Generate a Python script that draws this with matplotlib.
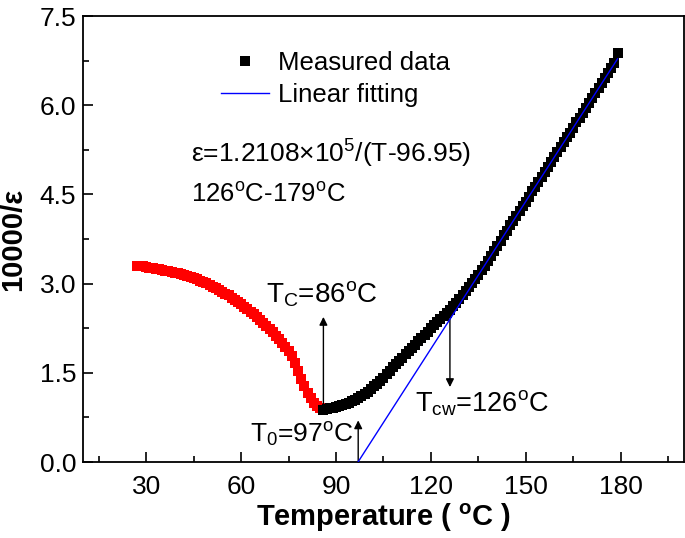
import matplotlib
matplotlib.use("Agg")
import matplotlib.pyplot as plt
from matplotlib.lines import Line2D

plt.rcParams['font.family'] = ['Liberation Sans', 'DejaVu Sans']
plt.rcParams['mathtext.fontset'] = 'custom'
plt.rcParams['mathtext.rm'] = 'Liberation Sans'
plt.rcParams['mathtext.it'] = 'Liberation Sans:italic'
plt.rcParams['mathtext.bf'] = 'Liberation Sans:bold'

# ---- data ----
T_ferro = [27, 28, 29, 30, 31, 32, 33, 34, 35, 36, 37, 38, 39, 40, 41, 42, 43, 44, 45,
           46, 47, 48, 49, 50, 51, 52, 53, 54, 55, 56, 57, 58, 59, 60, 61, 62, 63, 64,
           65, 66, 67, 68, 69, 70, 71, 72, 73, 74, 75, 76, 77, 78, 79, 80, 81, 82, 83,
           84, 85, 86]
y_ferro = [3.30, 3.29, 3.29, 3.28, 3.27, 3.26, 3.25, 3.24, 3.23, 3.22, 3.21, 3.20, 3.18,
           3.17, 3.16, 3.14, 3.13, 3.11, 3.09, 3.07, 3.05, 3.03, 3.01, 2.98, 2.95, 2.92,
           2.89, 2.86, 2.83, 2.80, 2.76, 2.73, 2.69, 2.65, 2.61, 2.57, 2.53, 2.49, 2.44,
           2.39, 2.34, 2.29, 2.24, 2.18, 2.12, 2.06, 2.00, 1.93, 1.86, 1.78, 1.66, 1.53,
           1.40, 1.27, 1.16, 1.07, 1.00, 0.94, 0.90, 0.88]

T_para = [86, 87, 88, 89, 90, 91, 92, 93, 94, 95, 96, 97, 98, 99, 100, 101, 102, 103,
          104, 105, 106, 107, 108, 109, 110, 111, 112, 113, 114, 115, 116, 117, 118,
          119, 120, 121, 122, 123, 124, 125, 126, 127, 128, 129, 130, 131, 132, 133,
          134, 135, 136, 137, 138, 139, 140, 141, 142, 143, 144, 145, 146, 147, 148,
          149, 150, 151, 152, 153, 154, 155, 156, 157, 158, 159, 160, 161, 162, 163,
          164, 165, 166, 167, 168, 169, 170, 171, 172, 173, 174, 175, 176, 177, 178, 179]
y_para = [0.88, 0.89, 0.90, 0.91, 0.92, 0.94, 0.96, 0.98, 1.00, 1.02, 1.05, 1.08, 1.11,
          1.14, 1.17, 1.22, 1.27, 1.32, 1.37, 1.42, 1.48, 1.53, 1.59, 1.64, 1.70, 1.75,
          1.81, 1.86, 1.92, 1.97, 2.04, 2.09, 2.14, 2.19, 2.25, 2.30, 2.35, 2.40, 2.46,
          2.51, 2.56, 2.62, 2.68, 2.74, 2.80, 2.87, 2.94, 3.01, 3.08, 3.15, 3.23, 3.30,
          3.38, 3.46, 3.55, 3.64, 3.72, 3.81, 3.89, 3.98, 4.06, 4.14, 4.22, 4.30, 4.38,
          4.46, 4.55, 4.63, 4.71, 4.80, 4.88, 4.96, 5.04, 5.13, 5.21, 5.29, 5.38, 5.46,
          5.54, 5.62, 5.71, 5.79, 5.87, 5.96, 6.04, 6.12, 6.21, 6.29, 6.37, 6.46, 6.54,
          6.63, 6.71, 6.88]

fit_T = [96.95, 179.0]
fit_y = [0.0, 6.78]

x_ticks = [30, 60, 90, 120, 150, 180]
y_ticks = [0.0, 1.5, 3.0, 4.5, 6.0, 7.5]

# ---- figure ----
fig = plt.figure(figsize=(6.85, 5.38), dpi=100)
ax = fig.add_axes([83/685, 76/538, 601/685, 446/538])

ms = 7
ax.plot(T_ferro, y_ferro, linestyle='none', marker='s', ms=ms, color='#ff0000',
        markeredgewidth=0, zorder=3)
ax.plot(T_para, y_para, linestyle='none', marker='s', ms=ms, color='black',
        markeredgewidth=0, zorder=3)
ax.plot(fit_T, fit_y, color='#0000ff', lw=1.0, zorder=4)

ax.set_xlim(10, 200)
ax.set_ylim(0, 7.5)
ax.set_xticks(x_ticks)
ax.set_xticks([15, 45, 75, 105, 135, 165, 195], minor=True)
ax.set_yticks(y_ticks)
ax.set_yticks([0.75, 2.25, 3.75, 5.25, 6.75], minor=True)
ax.set_yticklabels(['%.1f' % v for v in y_ticks])
ax.tick_params(which='both', direction='in', labelsize=19, width=1.2)
ax.tick_params(which='major', length=7)
ax.tick_params(which='minor', length=4)
ax.tick_params(axis='x', pad=9)
ax.tick_params(axis='y', pad=5)
for s in ax.spines.values():
    s.set_linewidth(1.3)

ax.set_xlabel(r'Temperature ( $\mathregular{^o}$C )', fontsize=21, fontweight='bold',
              labelpad=2)
ax.set_ylabel('10000/ε', fontsize=21, fontweight='bold', labelpad=9)

# legend
handles = [Line2D([], [], linestyle='none', marker='s', ms=ms, color='black',
                  markeredgewidth=0),
           Line2D([], [], color='#0000ff', lw=1.0)]
ax.legend(handles, ['Measured data', 'Linear fitting'], loc='upper left',
          bbox_to_anchor=(0.229, 0.922), frameon=False, fontsize=18.5,
          handlelength=1.9, handletextpad=0.35, labelspacing=0.32, borderpad=0,
          borderaxespad=0)

# annotations
ax.text(0.18, 0.69, r'ε=1.2108$\mathregular{\times}$10$\mathregular{^5}$/(T-96.95)',
        transform=ax.transAxes, fontsize=19, va='center', ha='left')
ax.text(0.18, 0.60, r'126$\mathregular{^o}$C-179$\mathregular{^o}$C',
        transform=ax.transAxes, fontsize=18.5, va='center', ha='left')

arrow = dict(arrowstyle='-|>', color='black', lw=1.0, mutation_scale=12,
             shrinkA=0, shrinkB=0)
ax.annotate('', xy=(86, 2.44), xytext=(86, 0.88), arrowprops=arrow)
ax.annotate('', xy=(126, 1.26), xytext=(126, 2.50), arrowprops=arrow)
ax.annotate('', xy=(97, 0.70), xytext=(97, 0.0), arrowprops=arrow)

ax.text(68, 2.82, r'T$\mathregular{_C}$=86$\mathregular{^o}$C', fontsize=20,
        va='center', ha='left')
ax.text(115, 0.99, r'T$\mathregular{_{cw}}$=126$\mathregular{^o}$C', fontsize=19.5,
        va='center', ha='left')
ax.text(95.5, 0.45, r'T$\mathregular{_0}$=97$\mathregular{^o}$C', fontsize=19,
        va='center', ha='right')

fig.savefig('out.png', dpi=100)
